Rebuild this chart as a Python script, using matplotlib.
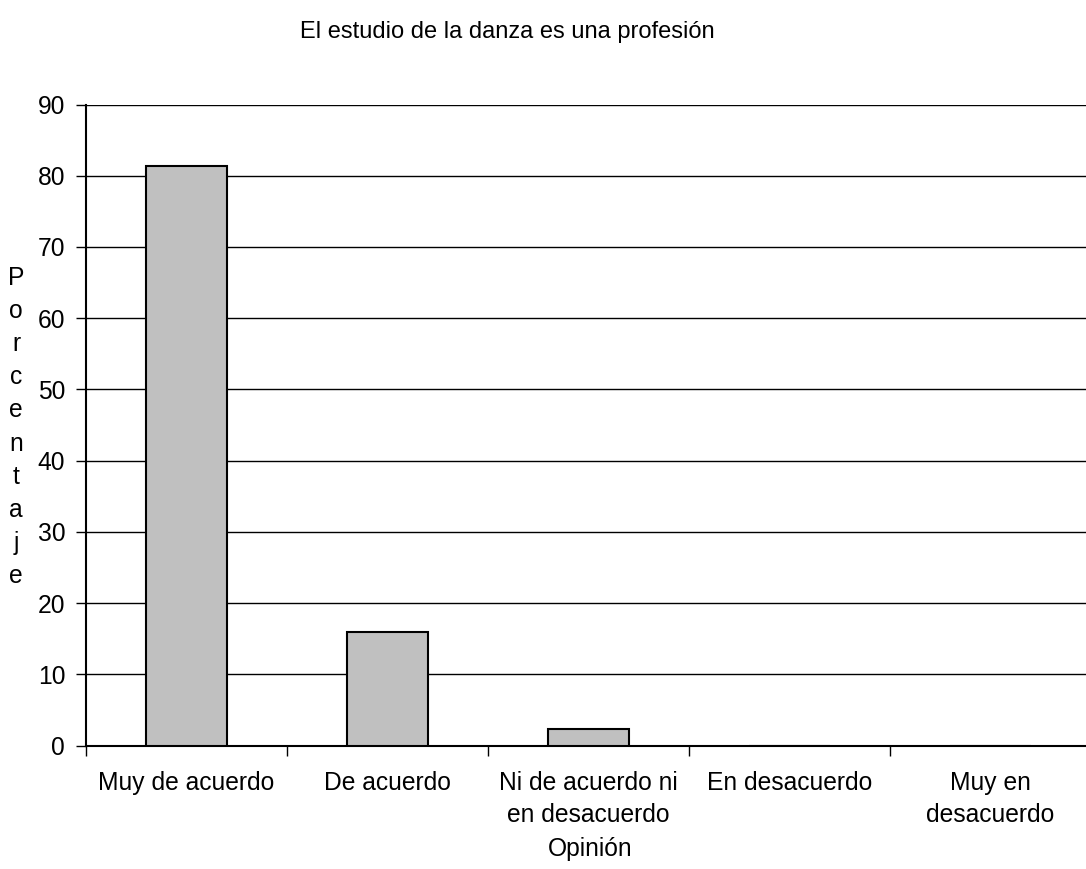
import matplotlib
matplotlib.use("Agg")
import matplotlib.pyplot as plt

categories = ["Muy de acuerdo", "De acuerdo", "Ni de acuerdo ni\nen desacuerdo",
              "En desacuerdo", "Muy en\ndesacuerdo"]
values = [81.3, 16.0, 2.4, 0.0, 0.0]
yticks = [0, 10, 20, 30, 40, 50, 60, 70, 80, 90]
title = "El estudio de la danza es una profesión"
xlabel = "Opinión"
ylabel = "Porcentaje"

plt.rcParams['font.family'] = ['Liberation Sans', 'DejaVu Sans']
FS = 17.7

W, H = 1086, 869
fig = plt.figure(figsize=(W / 100, H / 100), dpi=100)
ax = fig.add_axes([86 / W, 1 - 745.6 / H, (1091 - 86) / W, (745.6 - 104.5) / H])

x = list(range(len(categories)))
ax.bar(x, values, width=0.4, color="#C0C0C0", edgecolor="black", linewidth=1.5, zorder=3)

ax.set_xlim(-0.5, len(categories) - 0.5)
ax.set_ylim(0, 90)
ax.set_yticks(yticks)
ax.set_yticklabels([str(v) for v in yticks], fontsize=FS)
ax.yaxis.grid(True, color="black", linewidth=1.0, zorder=0)
ax.set_axisbelow(True)

# category ticks at boundaries, labels at centres
ax.set_xticks([i - 0.5 for i in range(len(categories) + 1)])
ax.set_xticklabels([])
ax.set_xticks(x, minor=True)
ax.set_xticklabels(categories, minor=True, fontsize=FS, linespacing=1.42)
ax.tick_params(axis="x", which="minor", length=0, pad=18)
ax.tick_params(axis="x", which="major", length=7, width=1.0, direction="out")
ax.tick_params(axis="y", length=7, width=1.0, direction="out", pad=8)

for s in ["top", "right"]:
    ax.spines[s].set_visible(False)
for s in ["left", "bottom"]:
    ax.spines[s].set_linewidth(1.5)

fig.text(507 / W, 1 - 32 / H, title, ha="center", va="center", fontsize=17)
fig.text(590 / W, 1 - 849 / H, xlabel, ha="center", va="center", fontsize=FS)
fig.text(16 / W, 1 - 427 / H, "\n".join(ylabel), ha="center", va="center",
         fontsize=FS, linespacing=1.48)

fig.savefig("out.png", dpi=100)
